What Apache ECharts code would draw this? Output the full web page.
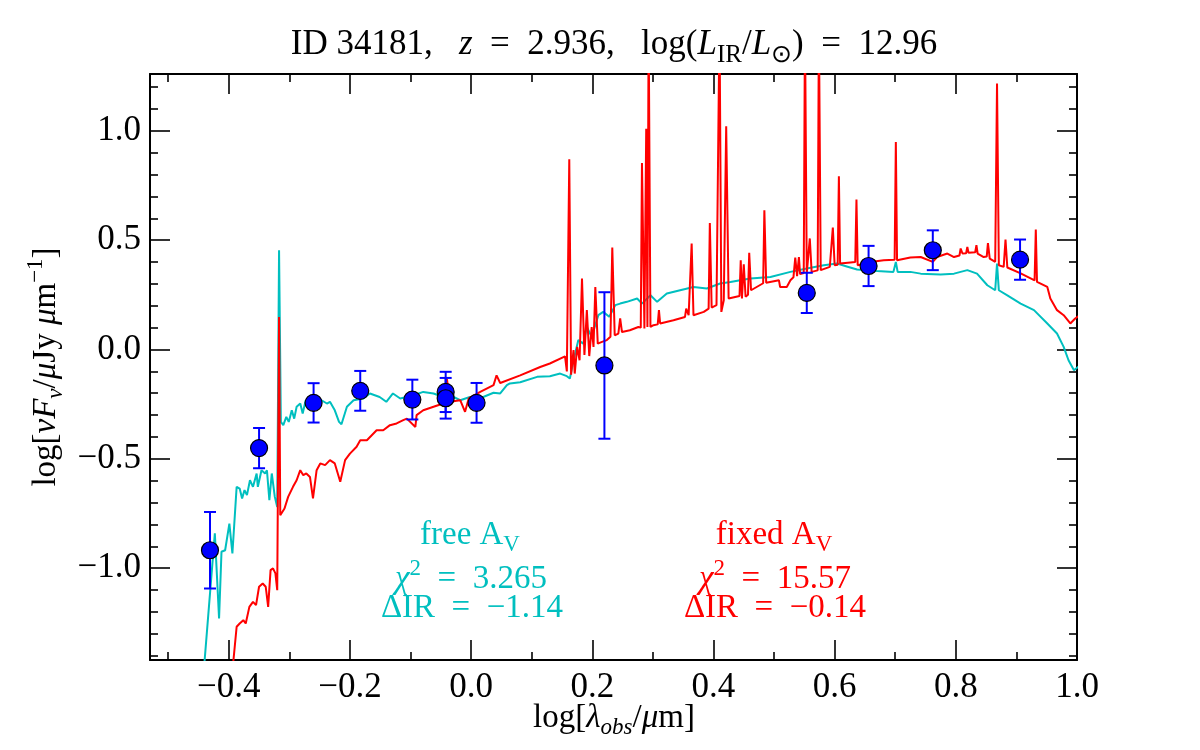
<!DOCTYPE html>
<html>
<head>
<meta charset="utf-8">
<script src="https://cdn.jsdelivr.net/npm/echarts@6/dist/echarts.min.js"></script>
<style>
  html, body { margin: 0; padding: 0; background: #fff; }
  #chart { width: 1200px; height: 750px; }
</style>
</head>
<body>
<div id="chart"></div>
<script>
// free A_V model (cyan)
const cyanWave = [-0.445, -0.423, -0.416, -0.412, -0.406, -0.399, -0.394, -0.387, -0.382, -0.378,
  -0.374, -0.370, -0.365, -0.360, -0.354, -0.352, -0.346, -0.340, -0.337, -0.333,
  -0.329, -0.324, -0.320, -0.317, -0.314, -0.310, -0.305, -0.301, -0.296, -0.292,
  -0.288, -0.282, -0.278, -0.273, -0.266, -0.255, -0.247, -0.238, -0.233, -0.225,
  -0.218, -0.214, -0.205, -0.194, -0.178, -0.167, -0.151, -0.140, -0.129, -0.117,
  -0.095, -0.079, -0.062, -0.046, -0.029, -0.018, -0.002, 0.020, 0.037, 0.048,
  0.059, 0.064, 0.081, 0.109, 0.130, 0.147, 0.158, 0.163, 0.169, 0.177,
  0.185, 0.191, 0.199, 0.210, 0.218, 0.228, 0.238, 0.246, 0.257, 0.274,
  0.282, 0.296, 0.307, 0.323, 0.345, 0.367, 0.389, 0.411, 0.428, 0.444,
  0.461, 0.494, 0.527, 0.554, 0.582, 0.604, 0.620, 0.637, 0.670, 0.697,
  0.701, 0.704, 0.725, 0.742, 0.775, 0.797, 0.819, 0.835, 0.852, 0.865,
  0.868, 0.871, 0.885, 0.907, 0.929, 0.951, 0.967, 0.978, 0.986, 0.995, 1.005]
const cyanFlux = [-1.60, -0.841, -1.230, -0.925, -0.918, -0.796, -0.933, -0.628, -0.636, -0.681,
  -0.643, -0.666, -0.598, -0.628, -0.567, -0.628, -0.552, -0.567, -0.552, -0.689,
  -0.567, -0.674, -0.720, 0.454, -0.331, -0.346, -0.308, -0.331, -0.278, -0.316,
  -0.262, -0.247, -0.293, -0.232, -0.262, -0.262, -0.232, -0.247, -0.239, -0.278,
  -0.331, -0.342, -0.262, -0.232, -0.224, -0.201, -0.217, -0.239, -0.201, -0.224,
  -0.209, -0.194, -0.201, -0.217, -0.217, -0.232, -0.217, -0.217, -0.198, -0.201,
  -0.163, -0.155, -0.150, -0.125, -0.122, -0.110, -0.122, -0.133, -0.049, 0.043,
  0.027, 0.103, 0.058, 0.157, 0.172, 0.150, 0.203, 0.210, 0.218, 0.233,
  0.210, 0.248, 0.218, 0.256, 0.271, 0.286, 0.279, 0.302, 0.309, 0.317,
  0.325, 0.332, 0.355, 0.370, 0.385, 0.393, 0.380, 0.366, 0.359, 0.355,
  0.400, 0.355, 0.355, 0.347, 0.343, 0.347, 0.363, 0.347, 0.294, 0.271,
  0.393, 0.271, 0.248, 0.210, 0.180, 0.119, 0.073, 0.012, -0.049, -0.095, -0.072]

// fixed A_V model (red)
const redWave = [-0.395, -0.387, -0.382, -0.376, -0.372, -0.366, -0.360, -0.355, -0.350, -0.344,
  -0.339, -0.335, -0.331, -0.327, -0.323, -0.320, -0.317, -0.315, -0.308, -0.302,
  -0.294, -0.288, -0.282, -0.277, -0.272, -0.266, -0.261, -0.255, -0.249, -0.241,
  -0.233, -0.225, -0.216, -0.208, -0.200, -0.189, -0.183, -0.172, -0.164, -0.156,
  -0.145, -0.134, -0.123, -0.112, -0.106, -0.092, -0.090, -0.079, -0.062, -0.046,
  -0.040, -0.035, -0.018, -0.010, -0.004, 0.015, 0.037, 0.042, 0.048, 0.081,
  0.114, 0.130, 0.155, 0.158, 0.162, 0.165, 0.169, 0.171, 0.175, 0.179,
  0.183, 0.187, 0.191, 0.195, 0.199, 0.202, 0.205, 0.209, 0.216, 0.224,
  0.230, 0.233, 0.237, 0.243, 0.246, 0.249, 0.262, 0.276, 0.280, 0.282, 0.286,
  0.289, 0.291, 0.293, 0.296, 0.301, 0.308, 0.310, 0.312, 0.334, 0.353, 0.355,
  0.359, 0.362, 0.364, 0.367, 0.384, 0.392, 0.394, 0.397, 0.405, 0.408, 0.410, 0.413,
  0.417, 0.419, 0.421, 0.425, 0.443, 0.445, 0.447, 0.450, 0.453, 0.457, 0.459, 0.462,
  0.482, 0.484, 0.487, 0.508, 0.510, 0.521, 0.527, 0.532, 0.535, 0.538,
  0.541, 0.543, 0.549, 0.551, 0.554, 0.557, 0.559, 0.562, 0.572, 0.574, 0.577, 0.592, 0.595, 0.597,
  0.600, 0.605, 0.607, 0.609, 0.626, 0.634, 0.636, 0.638, 0.659, 0.681, 0.699, 0.701, 0.703,
  0.725, 0.742, 0.762, 0.769, 0.786, 0.797, 0.806, 0.808, 0.811, 0.817, 0.819, 0.821,
  0.832, 0.834, 0.836, 0.846, 0.851, 0.853, 0.856, 0.865, 0.868, 0.871, 0.879, 0.882,
  0.885, 0.907, 0.930, 0.932, 0.934, 0.951, 0.956, 0.967, 0.978, 0.989, 0.997, 1.005]
const redFlux = [-1.50, -1.268, -1.253, -1.238, -1.253, -1.177, -1.154, -1.169, -1.085, -1.070,
  -1.085, -1.177, -1.009, -1.001, -1.024, -1.101, 0.149, -0.758, -0.727, -0.674,
  -0.628, -0.598, -0.552, -0.575, -0.567, -0.583, -0.681, -0.552, -0.521, -0.529,
  -0.506, -0.521, -0.605, -0.506, -0.476, -0.445, -0.415, -0.415, -0.392, -0.369,
  -0.369, -0.346, -0.338, -0.323, -0.316, -0.354, -0.300, -0.278, -0.262, -0.247,
  -0.133, -0.239, -0.232, -0.285, -0.224, -0.194, -0.163, -0.118, -0.153, -0.118,
  -0.080, -0.064, -0.031, -0.100, 0.870, -0.115, -0.003, -0.110, 0.012, -0.049,
  0.325, -0.025, 0.180, -0.030, 0.103, 0.012, 0.286, 0.027, 0.035, 0.043,
  0.058, 0.466, 0.065, 0.073, 0.142, 0.080, 0.088, 0.103, 0.100, 0.853, 0.096,
  1.010, 0.103, 1.500, 0.103, 0.111, 0.115, 0.180, 0.119, 0.134, 0.149, 0.187,
  0.157, 0.160, 0.485, 0.157, 0.172, 0.187, 0.579, 0.192, 0.203, 0.205, 1.500, 0.172,
  0.225, 0.228, 1.021, 0.233, 0.245, 0.408, 0.233, 0.390, 0.241, 0.250, 0.442, 0.271,
  0.303, 0.637, 0.305, 0.317, 0.286, 0.286, 0.317, 0.330, 0.420, 0.335,
  0.423, 0.345, 0.350, 1.500, 0.348, 0.352, 0.508, 0.355, 0.362, 1.500, 0.363, 0.378, 0.380, 0.558,
  0.385, 0.388, 0.792, 0.393, 0.398, 0.400, 0.686, 0.385, 0.400, 0.408, 0.410, 0.949, 0.408,
  0.421, 0.423, 0.401, 0.423, 0.439, 0.423, 0.430, 0.462, 0.439, 0.440, 0.469, 0.442,
  0.445, 0.477, 0.439, 0.423, 0.425, 0.487, 0.416, 0.401, 1.216, 0.385, 0.378, 0.503,
  0.375, 0.348, 0.316, 0.549, 0.309, 0.286, 0.233, 0.180, 0.157, 0.119, 0.142, 0.157]

// photometry
const photWave = [-0.431, -0.350, -0.260, -0.183, -0.097, -0.042, -0.042, 0.009, 0.220, 0.554, 0.656, 0.762, 0.906]
const photFlux = [-0.918, -0.451, -0.244, -0.189, -0.229, -0.194, -0.223, -0.244, -0.073, 0.259, 0.382, 0.454, 0.411]
const photErr = [0.175, 0.092, 0.090, 0.091, 0.091, 0.092, 0.093, 0.091, 0.335, 0.092, 0.092, 0.091, 0.092]

const xMajor = [-0.4, -0.2, 0.0, 0.2, 0.4, 0.6, 0.8, 1.0]
const xMinor = [-0.5, -0.3, -0.1, 0.1, 0.3, 0.5, 0.7, 0.9]
const yMajor = [-1.0, -0.5, 0.0, 0.5, 1.0]
const yMinor = [-1.4, -1.3, -1.2, -1.1, -0.9, -0.8, -0.7, -0.6, -0.4, -0.3, -0.2, -0.1,
  0.1, 0.2, 0.3, 0.4, 0.6, 0.7, 0.8, 0.9, 1.1, 1.2]

const FONT = 'Liberation Serif'
const CYAN = '#00BFBF'
const RED = '#FF0000'
const BLUE = '#0000FF'

function rich(size, color) {
  const lh = Math.round(size * 1.3)
  const s = Math.round(size * 0.7)
  const slh = Math.round(s * 1.2)
  const base = { fontFamily: FONT, fill: color }
  return {
    n: { ...base, fontSize: size, lineHeight: lh },
    i: { ...base, fontSize: size, lineHeight: lh, fontStyle: 'italic' },
    sub: { ...base, fontSize: s, lineHeight: slh, verticalAlign: 'bottom' },
    isub: { ...base, fontSize: s, lineHeight: slh, verticalAlign: 'bottom', fontStyle: 'italic' },
    sup: { ...base, fontSize: s, lineHeight: slh, verticalAlign: 'top' },
  }
}

function label(x, y, text, size, color, rotation) {
  return {
    type: 'text',
    x: x,
    y: y,
    rotation: rotation || 0,
    z: 100,
    style: {
      text: text,
      rich: rich(size, color),
      fill: color,
      align: 'center',
      verticalAlign: 'middle',
    },
  }
}

const fmt = v => (v < 0 ? '\u2212' : '') + Math.abs(v).toFixed(1)

const line = { show: true, onZero: false, lineStyle: { color: '#000', width: 2 } }
const tickStyle = { color: '#000', width: 1.6 }

function xAxis(grid, pos, values, len, labels) {
  return {
    type: 'value', gridIndex: grid, position: pos, min: -0.53, max: 1.0,
    axisLine: grid === 0 ? line : { show: false, onZero: false },
    axisTick: { show: true, inside: true, length: len, customValues: values, lineStyle: tickStyle },
    axisLabel: labels
      ? { show: true, customValues: values, formatter: fmt, fontFamily: FONT, fontSize: 35, color: '#000', margin: 10 }
      : { show: false },
    splitLine: { show: false },
  }
}

function yAxis(grid, pos, values, len, labels) {
  return {
    type: 'value', gridIndex: grid, position: pos, min: -1.42, max: 1.26,
    axisLine: grid === 0 ? line : { show: false, onZero: false },
    axisTick: { show: true, inside: true, length: len, customValues: values, lineStyle: tickStyle },
    axisLabel: labels
      ? { show: true, customValues: values, formatter: fmt, fontFamily: FONT, fontSize: 35, color: '#000', margin: 9 }
      : { show: false },
    splitLine: { show: false },
  }
}

const chart = echarts.init(document.getElementById('chart'))

const gridBox = { left: 150, right: 123, top: 74, bottom: 90 }

chart.setOption({
  animation: false,
  backgroundColor: '#fff',
  grid: [gridBox, gridBox],
  xAxis: [
    xAxis(0, 'bottom', xMajor, 20, true),
    xAxis(0, 'top', xMajor, 20, false),
    xAxis(1, 'bottom', xMinor, 8, false),
    xAxis(1, 'top', xMinor, 8, false),
  ],
  yAxis: [
    yAxis(0, 'left', yMajor, 20, true),
    yAxis(0, 'right', yMajor, 20, false),
    yAxis(1, 'left', yMinor, 8, false),
    yAxis(1, 'right', yMinor, 8, false),
  ],
  series: [
    {
      type: 'line',
      xAxisIndex: 0, yAxisIndex: 0,
      data: cyanWave.map((x, i) => [x, cyanFlux[i]]),
      showSymbol: false, symbol: 'none',
      lineStyle: { color: CYAN, width: 2 },
      clip: true, z: 2,
    },
    {
      type: 'line',
      xAxisIndex: 0, yAxisIndex: 0,
      data: redWave.map((x, i) => [x, redFlux[i]]),
      showSymbol: false, symbol: 'none',
      lineStyle: { color: RED, width: 2 },
      clip: true, z: 3,
    },
    {
      type: 'custom',
      xAxisIndex: 0, yAxisIndex: 0,
      data: photWave.map((x, i) => [x, photFlux[i] - photErr[i], photFlux[i] + photErr[i]]),
      encode: { x: 0, y: [1, 2] },
      z: 4,
      renderItem(params, api) {
        const x = api.value(0)
        const lo = api.coord([x, api.value(1)])
        const hi = api.coord([x, api.value(2)])
        const w = 6
        const st = { stroke: BLUE, lineWidth: 2 }
        return {
          type: 'group',
          children: [
            { type: 'line', shape: { x1: lo[0], y1: lo[1], x2: hi[0], y2: hi[1] }, style: st },
            { type: 'line', shape: { x1: lo[0] - w, y1: lo[1], x2: lo[0] + w, y2: lo[1] }, style: st },
            { type: 'line', shape: { x1: hi[0] - w, y1: hi[1], x2: hi[0] + w, y2: hi[1] }, style: st },
          ],
        }
      },
    },
    {
      type: 'scatter',
      xAxisIndex: 0, yAxisIndex: 0,
      data: photWave.map((x, i) => [x, photFlux[i]]),
      symbol: 'circle', symbolSize: 17,
      itemStyle: { color: BLUE, borderColor: '#000', borderWidth: 1.2, opacity: 1 },
      z: 5,
    },
  ],
  graphic: [
    label(614, 45, '{n|ID 34181,   }{i|z}{n|  =  2.936,   log(}{i|L}{sub|IR}{n|/}{i|L}{sub|\u2299}{n|)  =  12.96}', 35, '#000'),
    label(614, 718, '{n|log[}{i|\u03bb}{isub|obs}{n|/}{i|\u03bc}{n|m]}', 33, '#000'),
    label(46, 367, '{n|log[}{i|\u03bdF}{isub|\u03bd}{n|/}{i|\u03bc}{n|Jy }{i|\u03bc}{n|m}{sup|\u22121}{n|]}', 33, '#000', Math.PI / 2),
    label(470, 535, '{n|free A}{sub|V}', 33, CYAN),
    label(471, 579, '{i|\u03c7}{sup|2}{n|  =  3.265}', 33, CYAN),
    label(472, 608, '{n|\u0394IR  =  \u22121.14}', 33, CYAN),
    label(774, 535, '{n|fixed A}{sub|V}', 33, RED),
    label(775, 579, '{i|\u03c7}{sup|2}{n|  =  15.57}', 33, RED),
    label(775, 608, '{n|\u0394IR  =  \u22120.14}', 33, RED),
  ],
})
</script>
</body>
</html>
